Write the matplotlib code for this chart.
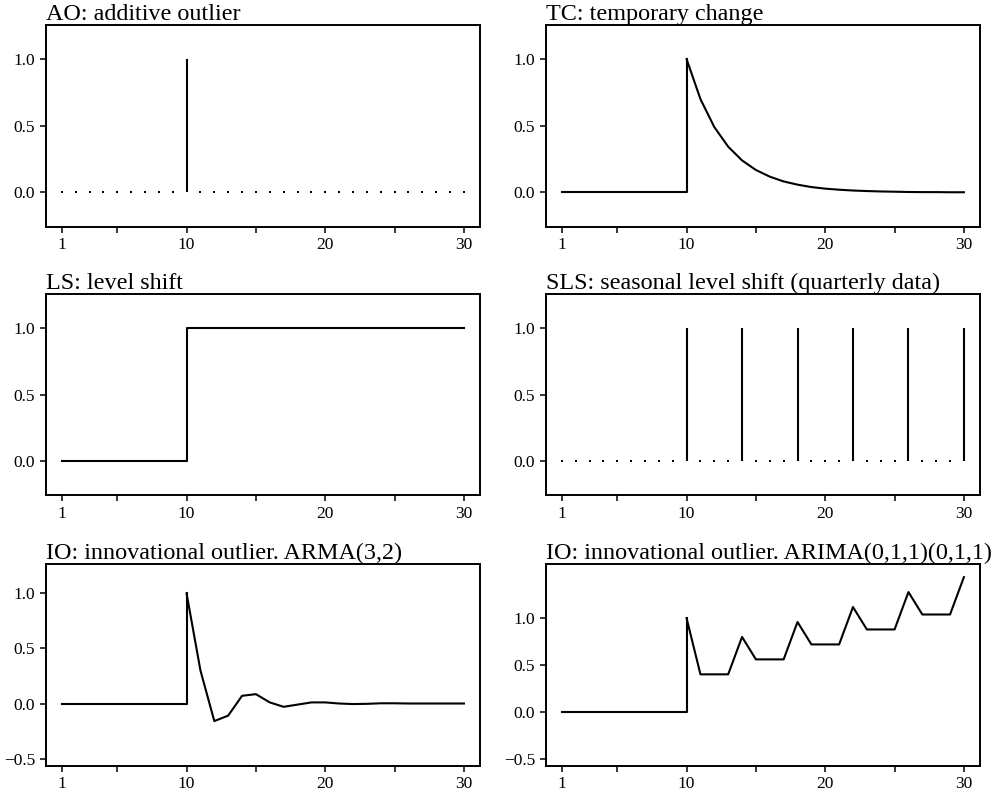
import numpy as np
import matplotlib
matplotlib.use("Agg")
from matplotlib import pyplot as plt

plt.rcParams['font.family'] = ['Liberation Serif', 'DejaVu Serif']

# time index
t = np.arange(1, 31)

# outlier effect series
ao = [0, 0, 0, 0, 0, 0, 0, 0, 0, 1,
      0, 0, 0, 0, 0, 0, 0, 0, 0, 0,
      0, 0, 0, 0, 0, 0, 0, 0, 0, 0]
tc = [0, 0, 0, 0, 0, 0, 0, 0, 0, 1.0,
      0.70, 0.49, 0.343, 0.24, 0.168, 0.118, 0.082, 0.058, 0.040, 0.028,
      0.020, 0.014, 0.010, 0.007, 0.005, 0.003, 0.002, 0.002, 0.001, 0.001]
ls = [0, 0, 0, 0, 0, 0, 0, 0, 0, 1,
      1, 1, 1, 1, 1, 1, 1, 1, 1, 1,
      1, 1, 1, 1, 1, 1, 1, 1, 1, 1]
sls = [0, 0, 0, 0, 0, 0, 0, 0, 0, 1,
       0, 0, 0, 1, 0, 0, 0, 1, 0, 0,
       0, 1, 0, 0, 0, 1, 0, 0, 0, 1]
io_arma = [0, 0, 0, 0, 0, 0, 0, 0, 0, 1.0,
           0.30, -0.16, -0.11, 0.07, 0.085, 0.01, -0.03, -0.01, 0.01, 0.01,
           0.0, -0.005, -0.003, 0.002, 0.002, 0.0, 0.0, 0.0, 0.0, 0.0]
io_arima = [0, 0, 0, 0, 0, 0, 0, 0, 0, 1.0,
            0.40, 0.40, 0.40, 0.80, 0.56, 0.56, 0.56, 0.96, 0.72, 0.72,
            0.72, 1.12, 0.88, 0.88, 0.88, 1.28, 1.04, 1.04, 1.04, 1.44]

titles = ['AO: additive outlier', 'TC: temporary change',
          'LS: level shift', 'SLS: seasonal level shift (quarterly data)',
          'IO: innovational outlier. ARMA(3,2)',
          'IO: innovational outlier. ARIMA(0,1,1)(0,1,1)']

W, H = 995, 796
fig = plt.figure(figsize=(W / 100, H / 100), dpi=100)

# axes boxes in pixels: (left, right) and (top, bottom)
lefts = [(45.7, 480.0), (545.7, 980.0)]
rows = [(25.0, 226.5), (294.3, 495.3), (564.0, 766.0)]


def make_ax(r, c):
    x0, x1 = lefts[c]
    y0, y1 = rows[r]
    return fig.add_axes([x0 / W, 1 - y1 / H, (x1 - x0) / W, (y1 - y0) / H])


def style(ax, title, ylim, yticks):
    ax.set_xlim(1 - 0.04 * 29, 30 + 0.04 * 29)
    rng = ylim[1] - ylim[0]
    ax.set_ylim(ylim[0] - 0.04 * rng, ylim[1] + 0.04 * rng)
    ax.set_xticks([1, 10, 20, 30])
    ax.set_xticks([5, 15, 25], minor=True)
    ax.set_yticks(yticks)
    ax.set_yticklabels([('%.1f' % v).replace('-', '\u2212') for v in yticks])
    ax.tick_params(which='both', direction='out', length=4.5, width=1.1,
                   labelsize=12.5, pad=3)
    for s in ax.spines.values():
        s.set_linewidth(1.4)
    ax.set_title(title, loc='left', fontsize=17.4, pad=2)


def spikes(ax, y):
    y = np.array(y, dtype=float)
    nz = y != 0
    ax.vlines(t[nz], 0, y[nz], color='black', lw=1.5)
    ax.plot(t[~nz], y[~nz], 's', color='black', ms=1.6, mew=0)


def jump_line(ax, y):
    # flat part, then a vertical jump at t=10, then the response
    ax.plot(np.repeat(t, 2)[1:20], np.repeat(y, 2)[:19], color='black', lw=1.5)
    ax.plot(t[9:], y[9:], color='black', lw=1.5)


# AO
ax = make_ax(0, 0)
spikes(ax, ao)
style(ax, titles[0], (-0.2, 1.2), [0.0, 0.5, 1.0])

# TC
ax = make_ax(0, 1)
jump_line(ax, tc)
style(ax, titles[1], (-0.2, 1.2), [0.0, 0.5, 1.0])

# LS
ax = make_ax(1, 0)
ax.step(t, ls, where='post', color='black', lw=1.5)
style(ax, titles[2], (-0.2, 1.2), [0.0, 0.5, 1.0])

# SLS
ax = make_ax(1, 1)
spikes(ax, sls)
style(ax, titles[3], (-0.2, 1.2), [0.0, 0.5, 1.0])

# IO ARMA(3,2)
ax = make_ax(2, 0)
jump_line(ax, io_arma)
style(ax, titles[4], (-0.5, 1.2), [-0.5, 0.0, 0.5, 1.0])

# IO ARIMA(0,1,1)(0,1,1)
ax = make_ax(2, 1)
jump_line(ax, io_arima)
style(ax, titles[5], (-0.5, 1.5), [-0.5, 0.0, 0.5, 1.0])

fig.savefig('out.png', dpi=100)
